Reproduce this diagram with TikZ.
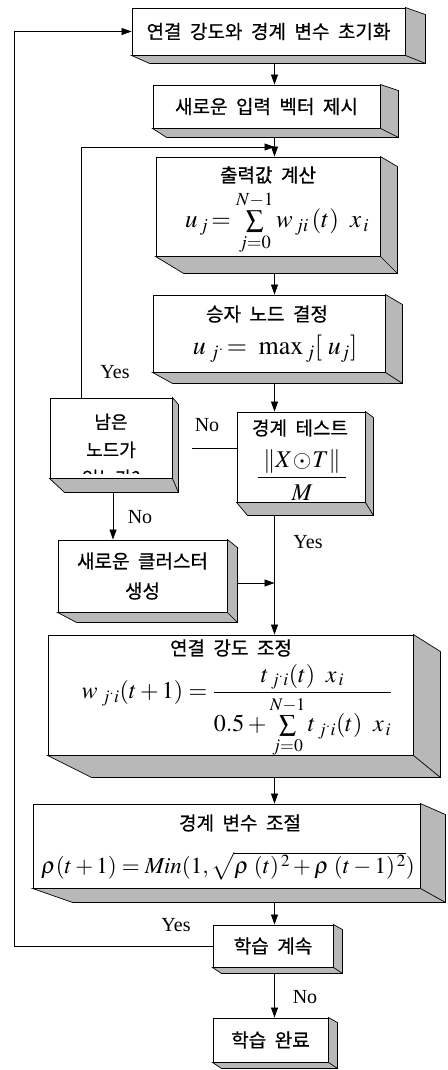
\documentclass[tikz,border=0pt]{standalone}
\usepackage{mathptmx}
\usepackage{fontspec}
\setmainfont{Liberation Serif}
\newfontfamily\kr[WordSpace=2,FakeBold=0.6]{Noto Sans CJK KR}
\usetikzlibrary{arrows.meta,calc}
\newcommand\xtr[5]{%
  \path[face] (#1.north east) -- ++(#3,-#4) -- ($(#1.south east)+(#3,-#5)$)
    -- ($(#1.south west)+(#2,-#5)$) -- (#1.south west) -- (#1.south east) -- cycle;
  \draw[faceedge] (#1.south east) -- ++(#3,-#5);
}
\begin{document}
\begin{tikzpicture}[x=1pt,y=1pt,
  box/.style={draw, fill=white, line width=0.9pt, inner sep=0pt, align=center,
    font=\kr\fontsize{19}{22}\selectfont},
  ttl/.style={inner sep=0pt, font=\kr\fontsize{19}{22}\selectfont},
  fml/.style={inner sep=0pt, font=\fontsize{#1}{#1}\selectfont},
  arr/.style={line width=0.8pt, -{Triangle[length=10pt,width=7pt]}},
  conn/.style={line width=0.8pt},
  lbl/.style={font=\fontsize{20}{22}\selectfont, inner sep=0pt},
  face/.style={fill=black!28, draw, line width=0.7pt, line join=miter},
  faceedge/.style={line width=0.7pt}]
\useasboundingbox (0,0) rectangle (447,-1070);

% boxes (front faces)
\node[box, minimum width=273pt, minimum height=47pt] (b1) at (268.5,-31.5) {연결 강도와 경계 변수 초기화};
\node[box, minimum width=227pt, minimum height=43pt] (b2) at (266.5,-106.5) {새로운 입력 벡터 제시};
\node[box, minimum width=224pt, minimum height=99pt] (b3) at (268,-206.5) {};
\node[box, minimum width=232pt, minimum height=77pt] (b4) at (269,-333.5) {};
\node[box, minimum width=122pt, minimum height=80pt] (b5) at (111,-438) {};
\node[box, minimum width=128pt, minimum height=90pt] (b6) at (301,-457) {};
\node[box, minimum width=169pt, minimum height=72pt] (b7) at (142.5,-576)
  {새로운 클러스터\\[8pt] 생성};
\node[box, minimum width=365pt, minimum height=120pt] (b8) at (230.5,-695) {};
\node[box, minimum width=387pt, minimum height=84pt] (b9) at (226.5,-846) {};
\node[box, minimum width=120pt, minimum height=42pt] (b10) at (273,-946) {학습 계속};
\node[box, minimum width=115pt, minimum height=44pt] (b11) at (270.5,-1040) {학습 완료};

% titles and formulas inside the boxes
\node[ttl] (b3t) at (268,-175) {출력값 계산};
\node[fml=25] (b3f) at (277,-223)
  {$u_{\,j}\!= \sum\limits_{j=0}^{N-1} w_{\,ji}\,(t)\;\;x_{\,i}$};
\node[ttl] (b4t) at (267,-314) {승자 노드 결정};
\node[fml=26] (b4f) at (275,-349) {$u_{\;j^{\cdot}}\!=\;\max_{\,j}[\;u_j]$};
\node[ttl] (b6t) at (300,-428) {경계 테스트};
\node[fml=24] (b6f) at (302,-475) {$\displaystyle\frac{\;\|X\!\odot\! T\|\;}{M}$};
\node[ttl] (b8t) at (231,-648) {연결 강도 조정};
\node[fml=24] (b8f) at (237,-711)
  {$\displaystyle w_{\;j^{\cdot}i}(t+1)=\frac{t_{\;j^{\cdot}i}(t)\;\;x_{\,i}}{0.5+\sum\limits_{j=0}^{N-1} t_{\;j^{\cdot}i}(t)\;\;x_{\,i}}$};
\node[ttl] (b9t) at (240,-823) {경계 변수 조절};
\node[fml=23] (b9f) at (228,-866)
  {$\rho(t+1)=\mathit{Min}(1,\sqrt{\rho\;(t)^{\,2}+\rho\;(t-1)^{\,2}})$};

% clipped text of box 5
\begin{scope}
  \clip (b5.north west) rectangle ($(b5.south east)+(0,5)$);
  \node[align=center, font=\kr\fontsize{18}{20}\selectfont, inner sep=0pt, anchor=north] (b5t)
    at ($(b5.north)+(0,-16)$) {남은\\[8pt] 노드가\\[8pt] 있는가?};
\end{scope}

% helper coordinates
\coordinate (mx) at (274.5,0);
\coordinate (lx) at (14,0);
\coordinate (yx) at (81,0);
\coordinate (nx) at (113,0);
\coordinate (j1) at (274.5,-147);
\coordinate (j2) at (274.5,-583);
\coordinate (nofree) at (192,-448);

% connectors
\draw[arr] (b1.south -| mx) -- (b2.north -| mx);
\draw[arr] (b2.south -| mx) -- (b3.north -| mx);
\draw[arr] (b3.south -| mx) -- (b4.north -| mx);
\draw[arr] (b4.south -| mx) -- (b6.north -| mx);
\draw[arr] (b6.south -| mx) -- (b8.north -| mx);
\draw[arr] (b8.south -| mx) -- (b9.north -| mx);
\draw[arr] (b9.south -| mx) -- (b10.north -| mx);
\draw[arr] (b10.south -| mx) -- (b11.north -| mx);
\draw[arr] (b10.west) -| (lx |- b1.west) -- (b1.west);
\draw[arr] (b5.north -| yx) |- (j1);
\draw[conn] (b6.west |- nofree) -- (nofree);
\draw[arr] (b5.south -| nx) -- (b7.north -| nx);
\draw[arr] (b7.east |- j2) -- (j2);

% 3-D extrusions
\xtr{b1}{18}{20}{7}{8}
\xtr{b2}{14}{18}{6}{9}
\xtr{b3}{28}{17}{10}{17}
\xtr{b4}{20}{17}{10}{11}
\xtr{b5}{15}{6}{7}{14}
\xtr{b6}{11}{8}{6}{13}
\xtr{b7}{19}{10}{8}{10}
\xtr{b8}{44}{27}{17}{22}
\xtr{b9}{40}{25}{11}{14}
\xtr{b10}{9}{9}{5}{6}
\xtr{b11}{9}{9}{5}{6}

% labels
\node[lbl] (l1) at (115,-372) {Yes};
\node[lbl] (l2) at (207,-425) {No};
\node[lbl] (l3) at (308,-542) {Yes};
\node[lbl] (l4) at (140,-517) {No};
\node[lbl] (l5) at (176,-925) {Yes};
\node[lbl] (l6) at (305,-997) {No};
\end{tikzpicture}
\end{document}
